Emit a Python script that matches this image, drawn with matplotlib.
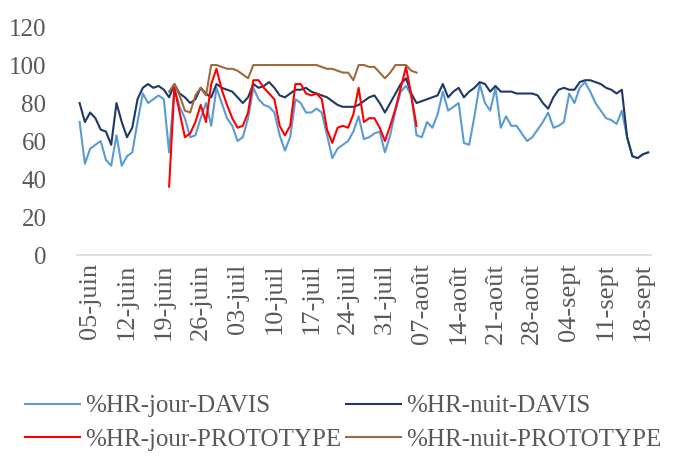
import numpy as np
import pandas as pd
import matplotlib
matplotlib.use('Agg')
import matplotlib.pyplot as plt

# Dates (journalier)
dates = pd.date_range('2019-06-03', '2019-09-19', freq='D')
dates_proto = pd.date_range('2019-06-20', '2019-08-06', freq='D')

# Humidité relative - station DAVIS
hr_jour_davis = [70, 48, 56, 58, 60, 50, 47, 63, 47, 52,
                 54, 70, 85, 80, 82, 84, 82, 54, 88, 78,
                 72, 62, 63, 72, 80, 68, 88, 80, 72, 68,
                 60, 62, 72, 88, 82, 79, 78, 75, 63, 55,
                 62, 82, 80, 75, 75, 77, 75, 63, 51, 56,
                 58, 60, 65, 73, 61, 62, 64, 65, 54, 63,
                 76, 86, 89, 84, 63, 62, 70, 67, 74, 86,
                 76, 78, 80, 59, 58, 73, 90, 80, 76, 88,
                 67, 73, 68, 68, 64, 60, 62, 66, 70, 75,
                 67, 68, 70, 85, 80, 88, 91, 86, 80, 76,
                 72, 71, 69, 76, 62, 52, 51, 53, 54]
hr_nuit_davis = [80, 70, 75, 72, 66, 65, 58, 80, 70, 62,
                 67, 82, 88, 90, 88, 89, 87, 83, 90, 85,
                 83, 80, 82, 88, 85, 83, 90, 88, 87, 86,
                 83, 80, 83, 90, 88, 89, 91, 88, 84, 83,
                 85, 87, 87, 88, 86, 85, 84, 83, 81, 79,
                 78, 78, 78, 79, 81, 83, 84, 80, 75, 80,
                 85, 90, 93, 85, 80, 81, 82, 83, 84, 90,
                 83, 86, 88, 83, 86, 88, 91, 90, 86, 89,
                 86, 86, 86, 85, 85, 85, 85, 84, 80, 77,
                 83, 87, 88, 87, 87, 91, 92, 92, 91, 90,
                 88, 87, 85, 87, 62, 52, 51, 53, 54]

# Humidité relative - prototype
hr_jour_proto = [36, 88, 75, 62, 64, 70, 79, 70, 90, 98,
                 87, 79, 72, 67, 68, 75, 92, 92, 88, 85,
                 82, 68, 63, 68, 90, 90, 85, 84, 85, 82,
                 66, 59, 67, 68, 67, 74, 88, 70, 72, 72,
                 67, 60, 68, 77, 88, 99, 84, 68]
hr_nuit_proto = [86, 90, 84, 76, 75, 84, 88, 84, 100, 100,
                 99, 98, 98, 97, 95, 93, 100, 100, 100, 100,
                 100, 100, 100, 100, 100, 100, 100, 100, 100, 99,
                 98, 98, 97, 96, 96, 92, 100, 100, 99, 99,
                 96, 93, 96, 100, 100, 100, 97, 96]

tick_dates = pd.date_range('2019-06-05', periods=16, freq='7D')
tick_labels = ['05-juin', '12-juin', '19-juin', '26-juin', '03-juil', '10-juil',
               '17-juil', '24-juil', '31-juil', '07-août', '14-août', '21-août',
               '28-août', '04-sept', '11-sept', '18-sept']

plt.rcParams['font.family'] = ['Liberation Serif', 'DejaVu Serif']
gris = '#595959'

fig = plt.figure(figsize=(6.73, 4.58), dpi=100)
ax = fig.add_axes([0.1144, 0.4432, 0.8526, 0.4978])

l1, = ax.plot(dates, hr_jour_davis, color='#5B9BD5', lw=1.5, label='%HR-jour-DAVIS')
l2, = ax.plot(dates, hr_nuit_davis, color='#1F3864', lw=1.5, label='%HR-nuit-DAVIS')
l3, = ax.plot(dates_proto, hr_jour_proto, color='#FF0000', lw=1.5, label='%HR-jour-PROTOTYPE')
l4, = ax.plot(dates_proto, hr_nuit_proto, color='#9C6B3E', lw=1.5, label='%HR-nuit-PROTOTYPE')

ax.set_xlim(dates[0] - pd.Timedelta(hours=12), dates[-1] + pd.Timedelta(hours=12))
ax.set_ylim(0, 120)
ax.set_yticks(np.arange(0, 121, 20))
ax.set_xticks(tick_dates)
ax.set_xticklabels(tick_labels, rotation=90, fontsize=19)

for s in ['top', 'right', 'left']:
    ax.spines[s].set_visible(False)
ax.spines['bottom'].set_color('#D9D9D9')
ax.spines['bottom'].set_linewidth(1.2)
ax.tick_params(axis='both', length=0, colors=gris)
ax.tick_params(axis='y', pad=22, labelsize=18)
ax.tick_params(axis='x', pad=6)

# légende : colonne 1 = jour, colonne 2 = nuit
fig.legend(handles=[l1, l3, l2, l4], loc='center', bbox_to_anchor=(0.51, 1 - 423 / 458),
           ncol=2, frameon=False, fontsize=18, handlelength=2.2, handletextpad=0.2,
           columnspacing=0.2, labelspacing=0.45, labelcolor=gris)

fig.savefig('out.png', dpi=100)
